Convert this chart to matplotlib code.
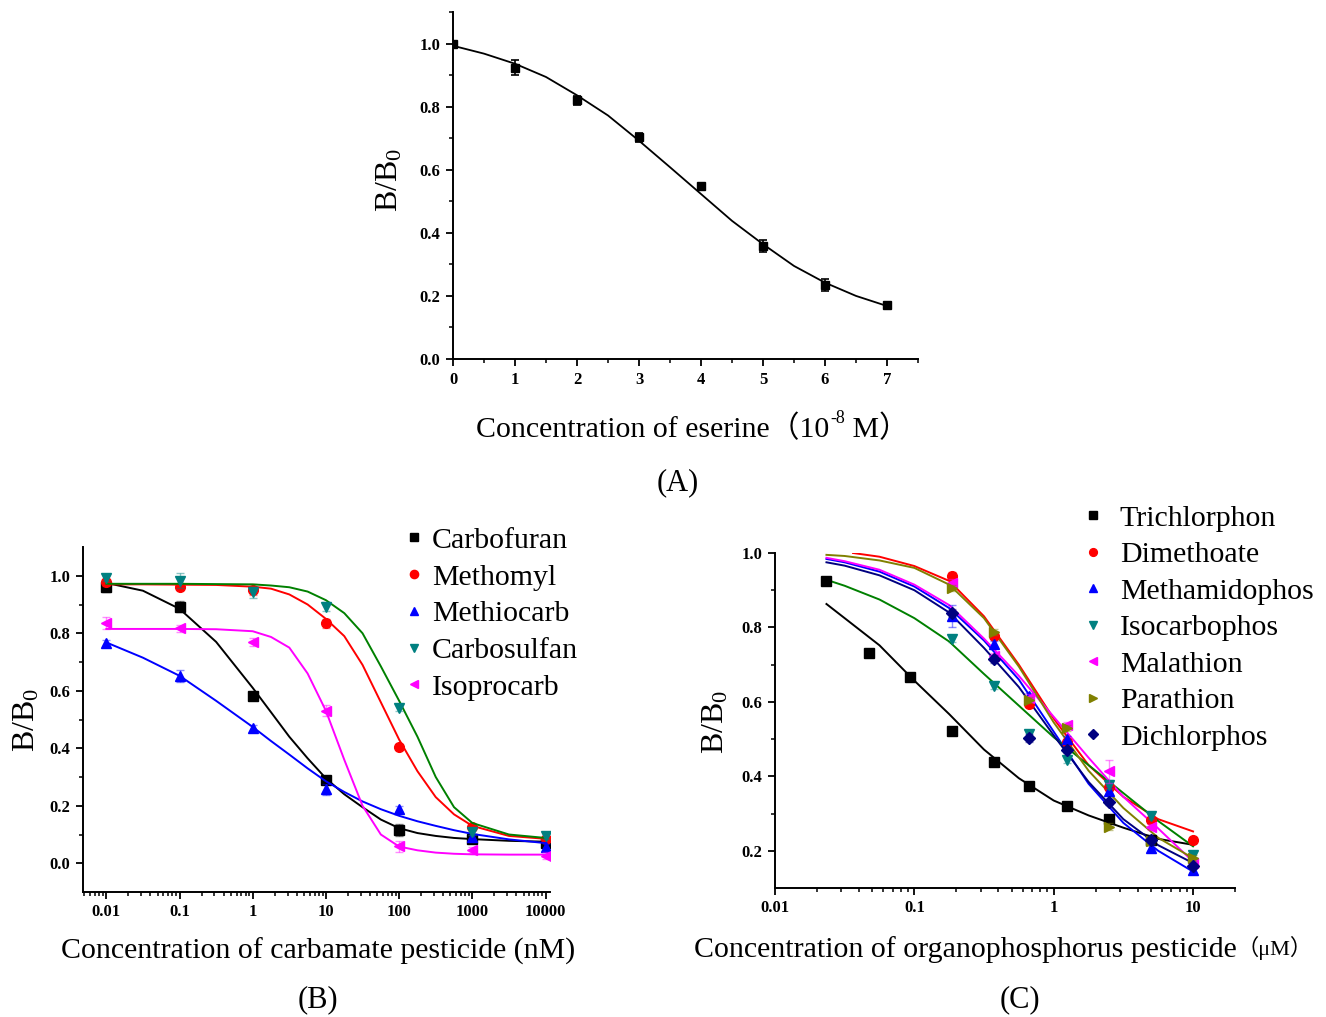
import numpy as np
import matplotlib
matplotlib.use('Agg')
import matplotlib.pyplot as plt
from matplotlib.ticker import FixedLocator, LogLocator, MultipleLocator, NullFormatter

plt.rcParams['font.family'] = ['Liberation Serif', 'Noto Sans CJK SC']
plt.rcParams['mathtext.fontset'] = 'custom'
plt.rcParams['mathtext.rm'] = 'Liberation Serif'
plt.rcParams['mathtext.it'] = 'Liberation Serif:italic'
plt.rcParams['mathtext.bf'] = 'Liberation Serif:bold'

###############
## Data (A) eserine
eserine_x = [0, 1, 2, 3, 4, 5, 6, 7]
eserine_y = [1.0, 0.924, 0.820, 0.703, 0.547, 0.358, 0.234, 0.171]
eserine_err = [0.005, 0.024, 0.015, 0.015, 0.008, 0.018, 0.020, 0.006]
eserine_fit_x = [0, 0.5, 1, 1.5, 2, 2.5, 3, 3.5, 4, 4.5, 5, 5.5, 6, 6.5, 7]
eserine_fit_y = [0.993, 0.968, 0.936, 0.894, 0.836, 0.772, 0.692, 0.608,
                 0.523, 0.438, 0.364, 0.295, 0.242, 0.200, 0.168]

## Data (B) carbamates
carb_conc = [0.01, 0.1, 1, 10, 100, 1000, 10000]
carb_names = ['Carbofuran', 'Methomyl', 'Methiocarb', 'Carbosulfan', 'Isoprocarb']
carbofuran = [0.960, 0.893, 0.583, 0.288, 0.116, 0.084, 0.072]
methomyl = [0.977, 0.961, 0.952, 0.835, 0.404, 0.127, 0.084]
methiocarb = [0.766, 0.651, 0.470, 0.257, 0.188, 0.092, 0.057]
carbosulfan = [0.992, 0.983, 0.942, 0.893, 0.539, 0.107, 0.096]
isoprocarb = [0.835, 0.818, 0.770, 0.531, 0.059, 0.046, 0.026]
carbofuran_err = [0.015, 0.020, 0.010, 0.012, 0.020, 0.012, 0.008]
methomyl_err = [0.012, 0.010, 0.020, 0.015, 0.010, 0.008, 0.008]
methiocarb_err = [0.012, 0.020, 0.010, 0.020, 0.010, 0.008, 0.010]
carbosulfan_err = [0.010, 0.025, 0.020, 0.015, 0.010, 0.010, 0.010]
isoprocarb_err = [0.020, 0.012, 0.015, 0.020, 0.020, 0.010, 0.012]

carb_fit_conc = [0.01, 0.0316, 0.1, 0.316, 1, 1.78, 3.16, 5.62, 10, 17.8, 31.6,
                 56.2, 100, 178, 316, 562, 1000, 3162, 10000]
carbofuran_fit = [0.975, 0.948, 0.885, 0.770, 0.610, 0.525, 0.440, 0.365, 0.295, 0.240,
                  0.195, 0.152, 0.122, 0.105, 0.095, 0.088, 0.084, 0.078, 0.075]
methomyl_fit = [0.970, 0.970, 0.969, 0.968, 0.962, 0.955, 0.935, 0.900, 0.850, 0.790,
                0.690, 0.560, 0.430, 0.320, 0.230, 0.170, 0.130, 0.095, 0.085]
methiocarb_fit = [0.768, 0.715, 0.652, 0.565, 0.474, 0.425, 0.378, 0.330, 0.285, 0.248,
                  0.215, 0.188, 0.165, 0.146, 0.130, 0.115, 0.102, 0.083, 0.070]
carbosulfan_fit = [0.972, 0.972, 0.972, 0.971, 0.970, 0.966, 0.960, 0.945, 0.915, 0.870,
                   0.800, 0.685, 0.565, 0.440, 0.300, 0.195, 0.140, 0.100, 0.088]
isoprocarb_fit = [0.815, 0.815, 0.815, 0.814, 0.807, 0.787, 0.750, 0.660, 0.530, 0.360,
                  0.200, 0.100, 0.058, 0.045, 0.037, 0.033, 0.031, 0.030, 0.030]
carb_ticklabels = ['0.01', '0.1', '1', '10', '100', '1000', '10000']

## Data (C) organophosphorus
op_names = ['Trichlorphon', 'Dimethoate', 'Methamidophos', 'Isocarbophos',
            'Malathion', 'Parathion', 'Dichlorphos']
trich_conc = [0.0234, 0.0469, 0.0938, 0.1875, 0.375, 0.667, 1.25, 2.5, 5]
trichlorphon = [0.926, 0.731, 0.667, 0.523, 0.438, 0.373, 0.319, 0.286, 0.230]
op_conc = [0.1875, 0.375, 0.667, 1.25, 2.5, 5, 10]
dimethoate = [0.939, 0.776, 0.595, 0.492, 0.371, 0.283, 0.228]
methamidophos = [0.830, 0.756, 0.615, 0.500, 0.360, 0.207, 0.149]
isocarbophos = [0.769, 0.642, 0.514, 0.445, 0.377, 0.294, 0.189]
malathion = [0.919, 0.722, 0.610, 0.539, 0.413, 0.265, 0.167]
parathion = [0.906, 0.789, 0.606, 0.530, 0.265, 0.225, 0.180]
dichlorphos = [0.839, 0.715, 0.503, 0.470, 0.330, 0.229, 0.160]
trich_err = [0.008, 0.006, 0.006, 0.008, 0.006, 0.008, 0.006, 0.010, 0.006]
dimethoate_err = [0.010, 0.008, 0.010, 0.008, 0.010, 0.008, 0.008]
methamidophos_err = [0.030, 0.008, 0.010, 0.008, 0.010, 0.008, 0.008]
isocarbophos_err = [0.008, 0.008, 0.010, 0.008, 0.012, 0.008, 0.008]
malathion_err = [0.010, 0.008, 0.010, 0.008, 0.030, 0.008, 0.008]
parathion_err = [0.008, 0.008, 0.008, 0.008, 0.010, 0.008, 0.008]
dichlorphos_err = [0.010, 0.010, 0.010, 0.008, 0.008, 0.008, 0.008]

op_fit_conc = [0.0234, 0.0316, 0.0562, 0.1, 0.178, 0.316, 0.562, 1, 1.78, 3.16, 5.62, 10]
trich_fit = [0.863, 0.825, 0.752, 0.657, 0.567, 0.472, 0.395, 0.335, 0.295, 0.262, 0.232, 0.216]
isocarbophos_fit = [0.928, 0.912, 0.875, 0.825, 0.762, 0.675, 0.590, 0.505, 0.430, 0.355, 0.280, 0.212]
parathion_fit = [0.995, 0.992, 0.980, 0.960, 0.915, 0.825, 0.695, 0.545, 0.415, 0.315, 0.235, 0.180]
malathion_fit = [0.987, 0.978, 0.955, 0.915, 0.860, 0.770, 0.670, 0.560, 0.450, 0.345, 0.260, 0.171]
methamidophos_fit = [0.984, 0.975, 0.950, 0.910, 0.852, 0.765, 0.660, 0.520, 0.380, 0.275, 0.200, 0.144]
dichlorphos_fit = [0.975, 0.966, 0.940, 0.900, 0.840, 0.745, 0.640, 0.510, 0.385, 0.285, 0.215, 0.167]
dimeth_fit_conc = [0.0363, 0.0562, 0.1, 0.178, 0.316, 0.562, 1, 1.78, 3.16, 5.62, 10]
dimethoate_fit = [1.0, 0.990, 0.965, 0.925, 0.830, 0.700, 0.555, 0.430, 0.345, 0.285, 0.252]
op_ticklabels = ['0.01', '0.1', '1', '10']
##############

W, H = 1326, 1017
fig = plt.figure(figsize=(W / 100, H / 100), dpi=100)


def px_axes(l, t, r, b):
    return fig.add_axes([l / W, 1 - b / H, (r - l) / W, (b - t) / H])


def style(ax):
    for s in ['top', 'right']:
        ax.spines[s].set_visible(False)
    for s in ['left', 'bottom']:
        ax.spines[s].set_linewidth(1.4)
    ax.tick_params(which='major', direction='out', length=5, width=1.3, labelsize=12, pad=4)
    ax.tick_params(which='minor', direction='out', length=3, width=1.1)


def bold_ticks(ax):
    plt.setp(ax.get_xticklabels() + ax.get_yticklabels(), fontweight='bold')


# ---------------- (A)
axA = px_axes(453, 12, 918, 359)
axA.plot(eserine_fit_x, eserine_fit_y, color='black', lw=1.3)
axA.errorbar(eserine_x, eserine_y, yerr=eserine_err, fmt='s', color='black', ms=5.5,
             capsize=3, elinewidth=1.2, capthick=1.2)
axA.set_xlim(0, 7.5)
axA.set_ylim(0, 1.1)
axA.xaxis.set_major_locator(FixedLocator(eserine_x))
axA.xaxis.set_minor_locator(MultipleLocator(0.5))
axA.yaxis.set_major_locator(FixedLocator([0.0, 0.2, 0.4, 0.6, 0.8, 1.0]))
axA.yaxis.set_minor_locator(MultipleLocator(0.1))
style(axA)

# ---------------- (B)
axB = px_axes(83, 547, 550, 892)
carb_series = [carbofuran, methomyl, methiocarb, carbosulfan, isoprocarb]
carb_errs = [carbofuran_err, methomyl_err, methiocarb_err, carbosulfan_err, isoprocarb_err]
carb_fits = [carbofuran_fit, methomyl_fit, methiocarb_fit, carbosulfan_fit, isoprocarb_fit]
carb_markers = ['s', 'o', '^', 'v', '<']
carb_mcolors = ['#000000', '#ff0000', '#0000ff', '#008080', '#ff00ff']
carb_lcolors = ['#000000', '#ff0000', '#0000ff', '#008000', '#ff00ff']
for name, ys, es, fit, mk, mc, lc in zip(carb_names, carb_series, carb_errs, carb_fits,
                                         carb_markers, carb_mcolors, carb_lcolors):
    axB.plot(carb_fit_conc, fit, color=lc, lw=1.4)
    axB.errorbar(carb_conc, ys, yerr=es, fmt='none', ecolor=mc, alpha=0.45,
                 capsize=3, elinewidth=1.0, capthick=1.0)
    axB.plot(carb_conc, ys, ls='none', marker=mk, color=mc, ms=7, label=name)
axB.set_xscale('log')
axB.set_xlim(0.0048, 11500)
axB.set_ylim(-0.1, 1.1)
axB.xaxis.set_major_locator(FixedLocator(carb_conc))
axB.set_xticklabels(carb_ticklabels)
axB.xaxis.set_minor_locator(LogLocator(base=10, subs=np.arange(2, 10), numticks=30))
axB.xaxis.set_minor_formatter(NullFormatter())
axB.yaxis.set_major_locator(FixedLocator([0.0, 0.2, 0.4, 0.6, 0.8, 1.0]))
axB.yaxis.set_minor_locator(FixedLocator([0.1, 0.3, 0.5, 0.7, 0.9]))
style(axB)
axB.legend(loc='upper left', bbox_to_anchor=(405 / W, 1 - 527 / H),
           bbox_transform=fig.transFigure, frameon=False, fontsize=21.5,
           handlelength=0.6, handletextpad=0.3, labelspacing=0.33,
           borderpad=0, borderaxespad=0, numpoints=1, markerscale=0.85)

# ---------------- (C)
axC = px_axes(775, 553, 1235, 888)
op_series = [dimethoate, methamidophos, isocarbophos, malathion, parathion, dichlorphos]
op_errs = [dimethoate_err, methamidophos_err, isocarbophos_err, malathion_err,
           parathion_err, dichlorphos_err]
op_markers = ['o', '^', 'v', '<', '>', 'D']
op_mcolors = ['#ff0000', '#0000ff', '#008080', '#ff00ff', '#808000', '#000080']
op_lcolors = ['#ff0000', '#0000ff', '#008000', '#ff00ff', '#808000', '#000080']

axC.plot(op_fit_conc, trich_fit, color='black', lw=1.4)
axC.plot(dimeth_fit_conc, dimethoate_fit, color='#ff0000', lw=1.4)
for fit, lc in zip([methamidophos_fit, isocarbophos_fit, malathion_fit, parathion_fit,
                    dichlorphos_fit], op_lcolors[1:]):
    axC.plot(op_fit_conc, fit, color=lc, lw=1.4)

axC.errorbar(trich_conc, trichlorphon, yerr=trich_err, fmt='none', ecolor='black',
             alpha=0.45, capsize=3, elinewidth=1.0)
axC.plot(trich_conc, trichlorphon, ls='none', marker='s', color='black', ms=6.5,
         label=op_names[0])
for name, ys, es, mk, mc in zip(op_names[1:], op_series, op_errs, op_markers, op_mcolors):
    axC.errorbar(op_conc, ys, yerr=es, fmt='none', ecolor=mc, alpha=0.45,
                 capsize=3, elinewidth=1.0)
    axC.plot(op_conc, ys, ls='none', marker=mk, color=mc, ms=7 if mk != 'D' else 6,
             label=name)
axC.set_xscale('log')
axC.set_xlim(0.01, 20)
axC.set_ylim(0.1, 1.0)
axC.xaxis.set_major_locator(FixedLocator([0.01, 0.1, 1, 10]))
axC.set_xticklabels(op_ticklabels)
axC.xaxis.set_minor_locator(LogLocator(base=10, subs=np.arange(2, 10), numticks=30))
axC.xaxis.set_minor_formatter(NullFormatter())
axC.yaxis.set_major_locator(FixedLocator([0.2, 0.4, 0.6, 0.8, 1.0]))
axC.yaxis.set_minor_locator(FixedLocator([0.3, 0.5, 0.7, 0.9]))
style(axC)
axC.legend(loc='upper left', bbox_to_anchor=(1084 / W, 1 - 505 / H),
           bbox_transform=fig.transFigure, frameon=False, fontsize=21.5,
           handlelength=0.6, handletextpad=0.6, labelspacing=0.32,
           borderpad=0, borderaxespad=0, numpoints=1, markerscale=0.8)

for ax in (axA, axB, axC):
    bold_ticks(ax)

# ---------------- labels
ylab = r'B/B$_\mathrm{0}$'
fig.text(390 / W, 1 - 180 / H, ylab, rotation=90, ha='center', va='center', fontsize=23)
fig.text(27 / W, 1 - 720 / H, ylab, rotation=90, ha='center', va='center', fontsize=23)
fig.text(716 / W, 1 - 722 / H, ylab, rotation=90, ha='center', va='center', fontsize=23)

# (A) x label built from pieces so the full-width brackets can fall back to CJK font
tA = fig.text(476 / W, 1 - 437 / H, 'Concentration of eserine\uff0810', ha='left',
              va='baseline', fontsize=21.5)
sup = axA.annotate('-8', xy=(1, 1), xycoords=tA, xytext=(1, 3), textcoords='offset points',
                   ha='left', va='top', fontsize=13, annotation_clip=False)
axA.annotate(' M\uff09', xy=(1, 0), xycoords=(sup, tA), ha='left', va='bottom',
             fontsize=21.5, annotation_clip=False)

fig.text(318 / W, 1 - 951 / H, 'Concentration of carbamate pesticide (nM)', ha='center',
         va='center', fontsize=21.5)
tC = fig.text(694 / W, 1 - 957 / H, 'Concentration of organophosphorus pesticide',
              ha='left', va='baseline', fontsize=21.5)
axC.annotate('\uff08\u03bcM\uff09', xy=(1, 0), xycoords=tC, xytext=(0, 2),
             textcoords='offset points', ha='left', va='bottom', fontsize=16,
             annotation_clip=False)

fig.text(678 / W, 1 - 483 / H, '(A)', ha='center', va='center', fontsize=22)
fig.text(318 / W, 1 - 1000 / H, '(B)', ha='center', va='center', fontsize=22)
fig.text(1020 / W, 1 - 1000 / H, '(C)', ha='center', va='center', fontsize=22)

fig.savefig('out.png', dpi=100)
